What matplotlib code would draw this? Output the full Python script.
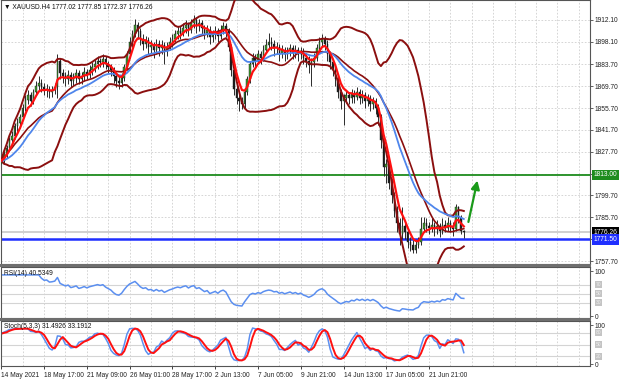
import numpy as np
import pandas as pd
import matplotlib
matplotlib.use("Agg")
import matplotlib.pyplot as plt
from matplotlib.patches import Rectangle

# ---------------- data ----------------
symbol_title = "XAUUSD.H4 1777.02 1777.85 1772.37 1776.26"
first_open = 1820.0
closes = [
    1822, 1826, 1830, 1835, 1838, 1844,
    1846, 1850, 1856, 1861, 1864, 1860, 1866, 1870, 1872,
    1869, 1867, 1868, 1866, 1867, 1869,
    1886, 1878,
    1876, 1874, 1877, 1873, 1875, 1878, 1874, 1876, 1879, 1877, 1880, 1882, 1884,
    1886, 1885, 1887, 1884, 1882, 1880,
    1876, 1873, 1872, 1875,
    1882, 1890, 1898, 1903, 1909, 1905,
    1900, 1897, 1899, 1895, 1896, 1893, 1897, 1894, 1896, 1892, 1895,
    1898, 1900, 1903, 1905, 1904, 1907, 1909, 1906, 1910, 1912, 1908, 1910, 1907,
    1904, 1906, 1901, 1903, 1905, 1902, 1906, 1908, 1905,
    1895, 1880, 1868, 1862, 1860, 1858,
    1866, 1874, 1884, 1888, 1886, 1890, 1888, 1893, 1896, 1898,
    1897, 1894, 1895, 1891, 1893, 1890, 1892, 1894, 1891, 1893, 1890, 1892,
    1888, 1886, 1883, 1885, 1888,
    1894, 1898, 1900, 1897,
    1890, 1885, 1880, 1874,
    1866, 1860, 1862,
    1864, 1862, 1865, 1863, 1866, 1862, 1864, 1860, 1862,
    1858, 1860, 1856, 1850,
    1835, 1818, 1820, 1808, 1800, 1790, 1782, 1775,
    1780, 1776, 1770, 1768, 1765, 1768, 1770,
    1778, 1782, 1780,
    1779, 1781, 1778, 1780, 1777, 1781, 1779, 1782, 1780, 1778,
    1792, 1785, 1777.02, 1776.26,
]
highs = [
    1824, 1828, 1832, 1837, 1841, 1846,
    1849, 1852, 1858, 1864, 1867, 1866, 1868, 1873, 1876,
    1874, 1872, 1871, 1870, 1870, 1872,
    1890, 1888,
    1881, 1879, 1880, 1879, 1878, 1881, 1880, 1879, 1882, 1881, 1883, 1885, 1887,
    1889, 1888, 1890, 1889, 1886, 1884,
    1882, 1878, 1876, 1878,
    1884, 1892, 1901, 1906, 1913, 1911,
    1907, 1903, 1902, 1901, 1899, 1898, 1900, 1899, 1899, 1898, 1898,
    1901, 1903, 1906, 1908, 1908, 1910, 1912, 1911, 1913, 1915, 1914, 1913, 1912,
    1909, 1909, 1908, 1906, 1908, 1907, 1909, 1911, 1910,
    1907, 1897, 1882, 1871, 1865, 1863,
    1868, 1876, 1886, 1891, 1890, 1893, 1892, 1896, 1900, 1904,
    1901, 1899, 1898, 1897, 1896, 1895, 1895, 1897, 1896, 1896, 1895, 1895,
    1894, 1891, 1889, 1888, 1891,
    1897, 1901, 1903, 1902,
    1899, 1892, 1887, 1882,
    1876, 1868, 1865,
    1867, 1866, 1868, 1867, 1869, 1868, 1867, 1866, 1865,
    1864, 1863, 1862, 1858,
    1852, 1837, 1823, 1822, 1811, 1802, 1793, 1785,
    1792, 1783, 1778, 1773, 1771, 1771, 1773,
    1786, 1786, 1785,
    1783, 1785, 1783, 1784, 1782, 1785, 1784, 1786, 1784, 1783,
    1794, 1793, 1787, 1777.85,
]
lows = [
    1815, 1820, 1824, 1828, 1833, 1836,
    1840, 1843, 1848, 1854, 1858, 1857, 1858, 1864, 1867,
    1866, 1864, 1863, 1862, 1863, 1865,
    1862, 1874,
    1872, 1870, 1871, 1869, 1870, 1872, 1871, 1871, 1873, 1874, 1875, 1877, 1879,
    1881, 1882, 1882, 1881, 1878, 1876,
    1872, 1869, 1868, 1869,
    1873, 1880, 1888, 1895, 1901, 1900,
    1896, 1893, 1894, 1890, 1891, 1888, 1890, 1889, 1890, 1884, 1889,
    1893, 1895, 1898, 1900, 1900, 1902, 1904, 1902, 1904, 1907, 1904, 1905, 1903,
    1900, 1901, 1897, 1898, 1900, 1898, 1900, 1903, 1901,
    1892, 1876, 1864, 1858, 1854, 1855,
    1856, 1864, 1872, 1882, 1882, 1884, 1884, 1886, 1891, 1894,
    1893, 1889, 1890, 1886, 1888, 1886, 1887, 1889, 1887, 1888, 1886, 1887,
    1884, 1882, 1878, 1870, 1882,
    1886, 1892, 1895, 1893,
    1886, 1881, 1876, 1870,
    1862, 1855, 1845,
    1859, 1858, 1859, 1859, 1861, 1858, 1859, 1856, 1857,
    1854, 1855, 1852, 1845,
    1830, 1812, 1808, 1804, 1795, 1786, 1776, 1768,
    1772, 1772, 1766, 1764, 1763, 1763, 1766,
    1768, 1776, 1776,
    1775, 1776, 1774, 1775, 1773, 1775, 1776, 1777, 1776, 1774,
    1777, 1782, 1775, 1772.37,
]
price_ticks = [1912.10, 1898.10, 1883.70, 1869.70, 1855.70, 1841.70,
               1827.70, 1813.70, 1799.70, 1785.70, 1771.70, 1757.70]
time_labels = ["14 May 2021", "18 May 17:00", "21 May 09:00", "26 May 01:00",
               "28 May 17:00", "2 Jun 13:00", "7 Jun 05:00", "9 Jun 21:00",
               "14 Jun 13:00", "17 Jun 05:00", "21 Jun 21:00"]
time_label_bars = [0, 16, 32, 48, 64, 80, 96, 112, 128, 144, 160]
resistance_level = 1813.00
support_level = 1771.50
last_price = 1776.26
arrow_from = (174.5, 1781.0)
arrow_to = (178.3, 1811.0)
rsi_label = "RSI(14) 40.5349"
stoch_label = "Stoch(5,3,3) 31.4926 33.1912"
rsi_levels = [70, 50, 30]
stoch_levels = [80, 50, 20]

# ---------------- indicators ----------------
close = pd.Series(closes, dtype=float)
high = pd.Series(highs, dtype=float)
low = pd.Series(lows, dtype=float)
opens = pd.Series([first_open] + closes[:-1], dtype=float)
n = len(close)
xs = np.arange(n)

sma20 = close.rolling(20, min_periods=1).mean()
sd20 = close.rolling(20, min_periods=1).std(ddof=0)
bb_up = sma20 + 2 * sd20
bb_dn = sma20 - 2 * sd20
ema_fast = close.ewm(span=5, adjust=False).mean()
ema_slow = close.ewm(span=21, adjust=False).mean()

delta = close.diff().fillna(0)
gain = delta.clip(lower=0).ewm(alpha=1 / 14, adjust=True).mean()
loss = (-delta.clip(upper=0)).ewm(alpha=1 / 14, adjust=True).mean()
rsi = 100 - 100 / (1 + gain / loss.replace(0, np.nan))
rsi[:14] = np.nan
rsi = rsi.bfill()

ll = low.rolling(5, min_periods=1).min()
hh = high.rolling(5, min_periods=1).max()
k = (close - ll).rolling(3, min_periods=1).sum() / (hh - ll).rolling(3, min_periods=1).sum() * 100
d = k.rolling(3, min_periods=1).mean()

# ---------------- figure ----------------
W, H = 620, 382
fig = plt.figure(figsize=(W / 100, H / 100), dpi=100)
fig.patch.set_facecolor("white")


def rect(x0, y0, x1, y1):
    return [x0 / W, 1 - y1 / H, (x1 - x0) / W, (y1 - y0) / H]


FONT = ["Liberation Sans", "DejaVu Sans"]
FS = 4.8
XL = (-0.3, 220.2)

ax = fig.add_axes(rect(0.5, 0, 590, 264))
ax_r = fig.add_axes(rect(0.5, 267, 590, 318), sharex=ax)
ax_s = fig.add_axes(rect(0.5, 321, 590, 366), sharex=ax)

# separators
for y0, y1 in [(264, 267), (318, 321)]:
    fig.add_artist(Rectangle((0, 1 - y1 / H), 590.5 / W, (y1 - y0) / H,
                             transform=fig.transFigure, color="#6e6e6e", lw=0))

vgrid = np.arange(0, 221, 8)
for a in (ax, ax_r, ax_s):
    a.set_facecolor("white")
    for sp in a.spines.values():
        sp.set_color("#555555")
        sp.set_linewidth(0.8)
    for xv in vgrid:
        a.axvline(xv, color="#cfcfcf", lw=0.6, ls=(0, (2, 2)), zorder=0)
    a.yaxis.tick_right()
    a.tick_params(axis="y", length=2.5, width=0.5, pad=1, labelsize=FS,
                  colors="#222222")
    a.tick_params(axis="x", length=0, labelbottom=False)
    a.set_xlim(*XL)

# ---- main panel ----
ax.set_ylim(1755.8, 1924.9)
ax.set_yticks(price_ticks)
ax.set_yticklabels([f"{v:.2f}" for v in price_ticks], fontfamily=FONT)
for v in price_ticks:
    ax.axhline(v, color="#cfcfcf", lw=0.6, ls=(0, (2, 2)), zorder=0)

ax.axhline(last_price, color="#c8c8c8", lw=1.2, zorder=1)
ax.axhline(resistance_level, color="#1e8c1e", lw=1.3, zorder=1)
ax.axhline(support_level, color="#1f2fff", lw=1.8, zorder=1)

up = close >= opens
ax.vlines(xs, low, high, color="#2a2a2a", lw=0.7, zorder=2)
body_h = (close - opens).abs().clip(lower=0.4)
body_b = np.minimum(close, opens)
ax.bar(xs[up], body_h[up], bottom=body_b[up], width=0.6, color="#3c9a2a",
       edgecolor="#1a1a1a", lw=0.3, zorder=3)
ax.bar(xs[~up], body_h[~up], bottom=body_b[~up], width=0.6, color="#1c1c1c",
       edgecolor="#1a1a1a", lw=0.3, zorder=3)

ax.plot(xs, bb_up, color="#8b0f0f", lw=1.4, zorder=4)
ax.plot(xs, sma20, color="#8b0f0f", lw=1.2, zorder=4)
ax.plot(xs, bb_dn, color="#8b0f0f", lw=1.4, zorder=4)
ax.plot(xs, ema_slow, color="#4f86ec", lw=1.3, zorder=5)
ax.plot(xs, ema_fast, color="#ff1010", lw=1.6, zorder=6)

ax.annotate("", xy=arrow_to, xytext=arrow_from,
            arrowprops=dict(arrowstyle="-|>,head_length=0.5,head_width=0.25",
                            color="#1a9a1a", lw=1.6), zorder=7)

ax.text(0.006, 0.985, "\u25BC " + symbol_title, transform=ax.transAxes,
        ha="left", va="top", fontsize=FS, fontfamily=FONT, color="#111111")

for val, bg in [(resistance_level, "#1e8c1e"), (last_price, "#000000"),
                (support_level, "#1f2fff")]:
    ax.annotate(f"{val:.2f}", xy=(1.0, val), xycoords=("axes fraction", "data"),
                xytext=(2.5, 0), textcoords="offset points", ha="left", va="center",
                fontsize=FS, fontfamily=FONT, color="white", annotation_clip=False,
                bbox=dict(boxstyle="square,pad=0.25", fc=bg, ec="none"), zorder=10)

# ---- RSI panel ----
ax_r.set_ylim(-4.4, 108.9)
ax_r.set_yticks([100, 0])
ax_r.set_yticklabels(["100", "0"], fontfamily=FONT)
for lv in rsi_levels:
    ax_r.axhline(lv, color="#d4d4d4", lw=0.8, zorder=0)
    ax_r.annotate(f"{lv}", xy=(1.0, lv), xycoords=("axes fraction", "data"),
                  xytext=(4, 0), textcoords="offset points", ha="left", va="center",
                  fontsize=3.6, color="#eeeeee", fontfamily=FONT, annotation_clip=False,
                  bbox=dict(boxstyle="square,pad=0.2", fc="#c4c4c4", ec="none"))
ax_r.plot(xs, rsi, color="#5b8ff0", lw=1.1)
ax_r.text(0.006, 0.95, rsi_label, transform=ax_r.transAxes, ha="left", va="top",
          fontsize=FS, fontfamily=FONT, color="#111111")

# ---- Stochastic panel ----
ax_s.set_ylim(-5.1, 110.3)
ax_s.set_yticks([100, 0])
ax_s.set_yticklabels(["100", "0"], fontfamily=FONT)
for lv in stoch_levels:
    ax_s.axhline(lv, color="#d4d4d4", lw=0.8, zorder=0)
    ax_s.annotate(f"{lv}", xy=(1.0, lv), xycoords=("axes fraction", "data"),
                  xytext=(4, 0), textcoords="offset points", ha="left", va="center",
                  fontsize=3.6, color="#eeeeee", fontfamily=FONT, annotation_clip=False,
                  bbox=dict(boxstyle="square,pad=0.2", fc="#c4c4c4", ec="none"))
ax_s.plot(xs, k, color="#5b8ff0", lw=1.1)
ax_s.plot(xs, d, color="#ff1010", lw=1.4)
ax_s.text(0.006, 0.95, stoch_label, transform=ax_s.transAxes, ha="left", va="top",
          fontsize=FS, fontfamily=FONT, color="#111111")

ax_s.set_xticks(time_label_bars)
ax_s.set_xticklabels(time_labels, fontfamily=FONT)
ax_s.tick_params(axis="x", length=2.5, width=0.6, labelbottom=True, labelsize=FS,
                 pad=1.5, colors="#222222")
for lab in ax_s.get_xticklabels():
    lab.set_ha("left")

fig.savefig("out.png", dpi=100)
